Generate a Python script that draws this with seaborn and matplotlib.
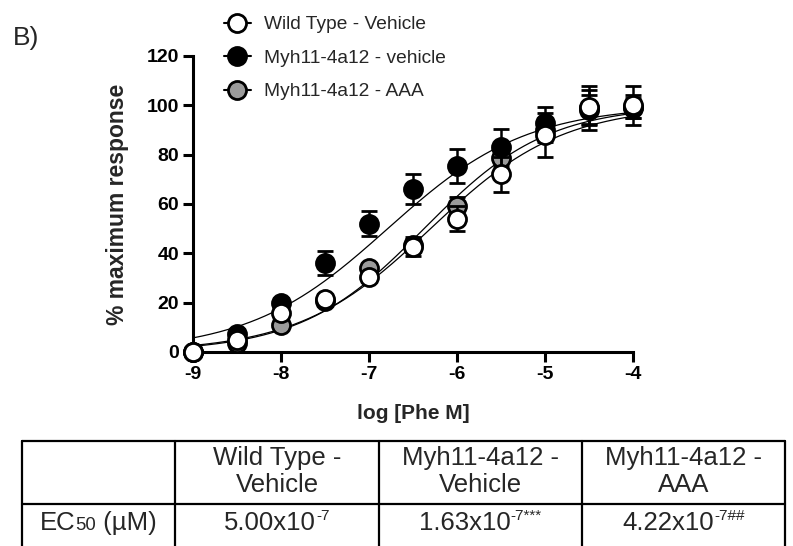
import numpy as np
import pandas as pd
import matplotlib
matplotlib.use("Agg")
import matplotlib.pyplot as plt
from matplotlib.lines import Line2D
import seaborn as sns

# ---- data -------------------------------------------------------------
log_conc = [-9, -8.5, -8, -7.5, -7, -6.5, -6, -5.5, -5, -4.5, -4]

groups = ["Wild Type - Vehicle", "Myh11-4a12 - vehicle", "Myh11-4a12 - AAA"]

wt_mean = [0, 5, 15.8, 21.5, 30.5, 42.5, 54, 72, 88, 99.3, 100]
wt_sem = [0, 1.5, 2, 2, 2, 3.5, 5, 7, 9, 7, 8]

veh_mean = [0, 7.5, 20, 36, 52, 66, 75.5, 83, 93, 99, 99.5]
veh_sem = [0, 2, 2, 4.8, 5, 6, 7, 7.5, 6.3, 9, 4.6]

aaa_mean = [0, 3.5, 11, 20.5, 34, 43.5, 59, 78.5, 90, 98, 99]
aaa_sem = [0, 1, 1.5, 2, 2, 3, 4, 5, 5, 6, 4]

# fitted sigmoidal dose-response parameters (EC50 in M)
ec50 = [5.00e-7, 1.63e-7, 4.22e-7]
hill = [0.58, 0.55, 0.62]
fit_top = [100, 100, 100]
fit_bottom = [0, 0, 0]

# table contents
table_headers = ["Wild Type -\nVehicle", "Myh11-4a12 -\nVehicle", "Myh11-4a12 -\nAAA"]
ec50_mantissa = ["5.00x10", "1.63x10", "4.22x10"]
ec50_exponent = ["-7", "-7***", "-7##"]

face_colors = ["white", "black", "#9b9b9b"]
layer = [5, 4, 3]

# ---- style ------------------------------------------------------------
sns.set_theme(style="ticks")
plt.rcParams["font.family"] = ["Liberation Sans", "DejaVu Sans"]
plt.rcParams["axes.linewidth"] = 2.2

W, H = 793, 546
fig = plt.figure(figsize=(W / 100, H / 100), dpi=100)


def fx(px):
    return px / W


def fy(py):
    return 1 - py / H


ax = fig.add_axes([fx(193), fy(352), (633 - 193) / W, (352 - 56) / H])

# ---- fitted curves ----------------------------------------------------
xs = np.linspace(-9, -4, 300)
curve_frames = []
for g, e, h, t, b in zip(groups, ec50, hill, fit_top, fit_bottom):
    ys = b + (t - b) / (1 + 10 ** ((np.log10(e) - xs) * h))
    curve_frames.append(pd.DataFrame({"logc": xs, "resp": ys, "group": g}))
curves = pd.concat(curve_frames, ignore_index=True)
sns.lineplot(data=curves, x="logc", y="resp", hue="group",
             palette={g: "black" for g in groups}, legend=False,
             linewidth=0.9, ax=ax, zorder=2, estimator=None, sort=False)
for ln in ax.lines:
    ln.set_clip_on(False)

# ---- mean +/- SEM points ---------------------------------------------
means = [wt_mean, veh_mean, aaa_mean]
sems = [wt_sem, veh_sem, aaa_sem]
for m, s, fc, z in zip(means, sems, face_colors, layer):
    cont = ax.errorbar(log_conc, m, yerr=s, fmt="o", ms=13, mfc=fc, mec="black",
                       mew=2.0, ecolor="black", elinewidth=1.8, capsize=5.5,
                       capthick=1.8, zorder=z)
    for art in cont.lines[1] + cont.lines[2]:
        art.set_clip_on(False)
        art.set_zorder(z - 0.5)
    cont.lines[0].set_clip_on(False)
    cont.lines[0].set_zorder(z)

# ---- axes -------------------------------------------------------------
ax.set_xlim(-9, -4)
ax.set_ylim(0, 120)
ax.set_xticks(range(-9, -3))
ax.set_xticklabels([str(v) for v in range(-9, -3)])
ax.set_yticks(range(0, 121, 20))
ax.tick_params(axis="both", direction="out", length=7, width=2.2,
               labelsize=14, pad=3, colors="black")
for lbl in ax.get_xticklabels() + ax.get_yticklabels():
    lbl.set_fontweight("bold")
sns.despine(ax=ax)
for sp in ("left", "bottom"):
    ax.spines[sp].set_color("black")
    ax.spines[sp].set_linewidth(2.2)

ax.set_ylabel("% maximum response", fontsize=16.5, fontweight="bold")
ax.set_xlabel("log [Phe M]", fontsize=15, fontweight="bold")
ax.yaxis.set_label_coords((129 - 193) / 440, 0.5)
ax.xaxis.set_label_coords(0.5, -(404 - 352) / 296)
ax.xaxis.label.set_va("top")

# ---- legend -----------------------------------------------------------
handles = [Line2D([0], [0], color="black", lw=1.5, marker="o", ms=13,
                  mfc=fc, mec="black", mew=2.0) for fc in face_colors]
fig.legend(handles, groups, loc="upper left", bbox_to_anchor=(fx(224), fy(16)),
           frameon=False, fontsize=13.8, handlelength=1.4, handletextpad=0.7,
           labelspacing=0.84, borderpad=0, borderaxespad=0)

# ---- panel letter -----------------------------------------------------
fig.text(fx(13), fy(45), "B)", fontsize=19, va="baseline", ha="left")

# ---- EC50 table -------------------------------------------------------
col_x = [22, 175, 379, 582, 785]
row_y = [441, 504, 560]
tbl_lw = 1.6
for y in row_y:
    fig.add_artist(Line2D([fx(col_x[0]), fx(col_x[-1])], [fy(y), fy(y)],
                          color="black", lw=tbl_lw, transform=fig.transFigure))
for x in col_x:
    fig.add_artist(Line2D([fx(x), fx(x)], [fy(row_y[0]), fy(row_y[-1])],
                          color="black", lw=tbl_lw, transform=fig.transFigure))

tbl_size = 18.5
centers = [(col_x[i] + col_x[i + 1]) / 2 for i in range(4)]
for cx, txt in zip(centers[1:], table_headers):
    fig.text(fx(cx), fy(471.5), txt, fontsize=tbl_size, ha="center",
             va="center", multialignment="center", linespacing=1.2)

renderer = fig.canvas.get_renderer()


def rich_text(cx, baseline, parts, size):
    """Lay out text pieces (string, scale, raise_px) side by side, centred."""
    placed = []
    total = 0.0
    for s, scale, dy in parts:
        t = fig.text(0, 0, s, fontsize=size * scale, ha="left", va="baseline")
        w = t.get_window_extent(renderer=renderer).width
        placed.append((t, dy, w))
        total += w
    x = cx - total / 2
    for t, dy, w in placed:
        t.set_position((fx(x), fy(baseline - dy)))
        x += w


rich_text(centers[0], 530, [("EC", 1, 0), ("50", 0.72, 0), (" (\u00b5M)", 1, 0)],
          tbl_size)
for cx, mant, expo in zip(centers[1:], ec50_mantissa, ec50_exponent):
    rich_text(cx, 530, [(mant, 1, 0), (expo, 0.6, 10.5)], tbl_size)

fig.savefig("out.png", dpi=100)
